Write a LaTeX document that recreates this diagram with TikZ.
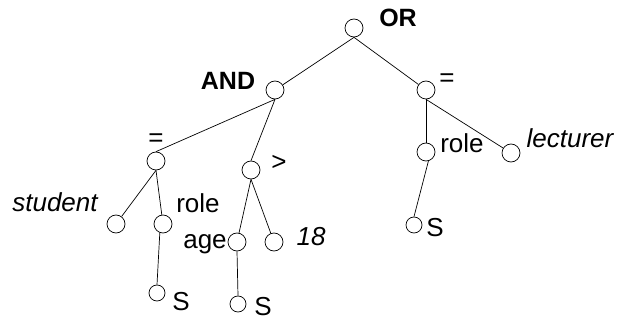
\documentclass[tikz,border=0pt]{standalone}
\usepackage{fontspec}
\setmainfont{Liberation Sans}
\usepackage{tikz}
\usetikzlibrary{positioning}
\tikzset{
  vertex/.style={
    circle,
    draw=black,
    fill=white,
    minimum size=18pt,
    inner sep=0pt,
    line width=0.7pt
  },
  leafS/.style={
    vertex,
    minimum size=16pt
  },
  lbl/.style={
    anchor=base,
    inner sep=0pt,
    font=\fontsize{26}{30}\selectfont
  },
  oplbl/.style={
    lbl,
    font=\fontsize{25}{30}\selectfont\bfseries
  },
  constlbl/.style={
    lbl,
    font=\fontsize{26}{30}\selectfont\itshape
  },
  branch/.style={line width=0.7pt, draw=black}
}

\begin{document}
\begin{tikzpicture}[x=1pt, y=-1pt]
  \useasboundingbox (0,0) rectangle (626,320);

  % operator nodes
  \node[vertex] (orOp) at (354,28) {};
  \node[vertex] (andOp) at (275,90) {};
  \node[vertex] (eqRight) at (426,90) {};
  \node[vertex] (eqLeft) at (156,161) {};
  \node[vertex] (gtOp) at (251,170) {};

  % leaves
  \node[vertex] (student) at (116,224) {};
  \node[vertex] (roleLeft) at (163,224) {};
  \node[vertex] (age) at (237,242) {};
  \node[vertex] (eighteen) at (274,242) {};
  \node[vertex] (roleRight) at (426,152) {};
  \node[vertex] (lecturer) at (511,153) {};
  \node[leafS] (sLeft) at (157,293) {};
  \node[leafS] (sAge) at (238,304) {};
  \node[leafS] (sRight) at (414,225) {};

  % labels
  \node[oplbl] at (398,27) {OR};
  \node[oplbl] at (228,90) {AND};
  \node[lbl, anchor=center] at (447,80) {=};
  \node[lbl, anchor=center] at (156,140) {=};
  \node[lbl, anchor=center] at (279,163) {>};
  \node[constlbl] at (55,212) {student};
  \node[lbl] at (198,213) {role};
  \node[lbl] at (205,248) {age};
  \node[constlbl] at (311,246) {18};
  \node[lbl] at (181,310) {S};
  \node[lbl] at (263,315) {S};
  \node[lbl] at (462,153) {role};
  \node[constlbl] at (570,148) {lecturer};
  \node[lbl] at (435,237) {S};

  \draw[branch] (orOp.south) -- (andOp);
  \draw[branch] (orOp.south) -- (eqRight);
  \draw[branch] (andOp.south) -- (eqLeft.north);
  \draw[branch] (andOp.south) -- (gtOp.north);
  \draw[branch] (eqLeft.south) -- (student);
  \draw[branch] (eqLeft.south) -- (roleLeft);
  \draw[branch] (roleLeft.-110) -- (sLeft.north);
  \draw[branch] (gtOp.south) -- (age);
  \draw[branch] (gtOp.south) -- (eighteen);
  \draw[branch] (age.south) -- (sAge.north);
  \draw[branch] (eqRight.south) -- (roleRight.north);
  \draw[branch] (eqRight.south) -- (lecturer);
  \draw[branch] (roleRight.-75) -- (sRight.north);
\end{tikzpicture}
\end{document}
